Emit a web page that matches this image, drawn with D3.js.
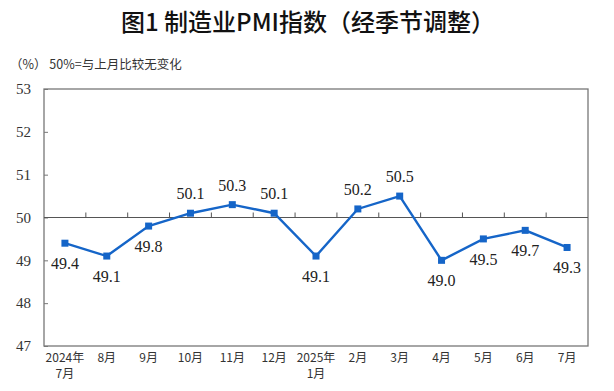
<!DOCTYPE html>
<html><head><meta charset="utf-8">
<script src="https://cdn.jsdelivr.net/npm/d3@7"></script>
<style>body{margin:0;background:#fff;}svg{display:block;}</style>
</head><body>
<script>
const categories = ["2024年\n7月","8月","9月","10月","11月","12月","2025年\n1月","2月","3月","4月","5月","6月","7月"];
const values = [49.4,49.1,49.8,50.1,50.3,50.1,49.1,50.2,50.5,49.0,49.5,49.7,49.3];
const labelPos = ["below","below","below","above","above","above","below","above","above","below","below","below","below"];
const yTicks = [47,48,49,50,51,52,53];

const W=614,H=391;
const m={left:44,right:26,top:89,bottom:45};
const svg=d3.select("body").append("svg").attr("width",W).attr("height",H);
const x=d3.scaleBand().domain(categories).range([m.left,W-m.right]);
const y=d3.scaleLinear().domain([47,53]).range([H-m.bottom,m.top]);

svg.append("text").attr("x",308).attr("y",31).attr("text-anchor","middle")
  .attr("font-family","'Noto Sans CJK SC'").attr("font-size",24).attr("font-weight",500).attr("fill","#111")
  .text("图1  制造业PMI指数（经季节调整）");
svg.append("text").attr("x",10).attr("y",69)
  .attr("font-family","'Noto Sans CJK SC'").attr("font-size",12.5).attr("fill","#333")
  .text("（%） 50%=与上月比较无变化");

const g=svg.append("g");
g.append("rect").attr("x",m.left).attr("y",m.top).attr("width",W-m.left-m.right).attr("height",H-m.top-m.bottom)
  .attr("fill","none").attr("stroke","#777").attr("stroke-width",1.3);
const yAxis=d3.axisLeft(y).tickValues(yTicks).tickSize(-4).tickPadding(13).tickFormat(d3.format("d"));
const ya=g.append("g").attr("transform",`translate(${m.left},0)`).call(yAxis);
ya.select(".domain").remove();
ya.selectAll("line").attr("stroke","#777");
ya.selectAll("text").attr("font-family","'Liberation Serif'").attr("font-size",15).attr("fill","#333");
g.append("line").attr("x1",m.left).attr("x2",W-m.right).attr("y1",y(50)).attr("y2",y(50)).attr("stroke","#555").attr("stroke-width",1.2);
const bounds=categories.slice(1).map(c=>x(c));
g.selectAll(".xt").data(bounds).enter().append("line")
  .attr("x1",d=>d).attr("x2",d=>d).attr("y1",y(50)).attr("y2",y(50)-5).attr("stroke","#555");
categories.forEach(c=>{
  const parts=c.split("\n");
  const t=g.append("text").attr("x",x(c)+x.bandwidth()/2).attr("y",H-m.bottom+16)
    .attr("text-anchor","middle").attr("font-family","'Noto Sans CJK SC'").attr("font-size",12).attr("fill","#333");
  parts.forEach((p,i)=>t.append("tspan").attr("x",x(c)+x.bandwidth()/2).attr("dy",i?16:0).text(p));
});
const cx=(d,i)=>x(categories[i])+x.bandwidth()/2;
g.append("path").datum(values).attr("fill","none").attr("stroke","#1565c8").attr("stroke-width",2.4)
  .attr("d",d3.line().x((d,i)=>cx(d,i)).y(d=>y(d)));
g.selectAll(".pt").data(values).enter().append("rect")
  .attr("x",(d,i)=>cx(d,i)-3.5).attr("y",d=>y(d)-3.5).attr("width",7).attr("height",7).attr("fill","#1565c8");
g.selectAll(".lb").data(values).enter().append("text")
  .attr("x",(d,i)=>cx(d,i)).attr("y",(d,i)=>labelPos[i]==="above"?y(d)-14:y(d)+26)
  .attr("text-anchor","middle").attr("font-family","'Liberation Serif'").attr("font-size",16).attr("fill","#222")
  .text(d=>d.toFixed(1));
</script>
</body></html>
